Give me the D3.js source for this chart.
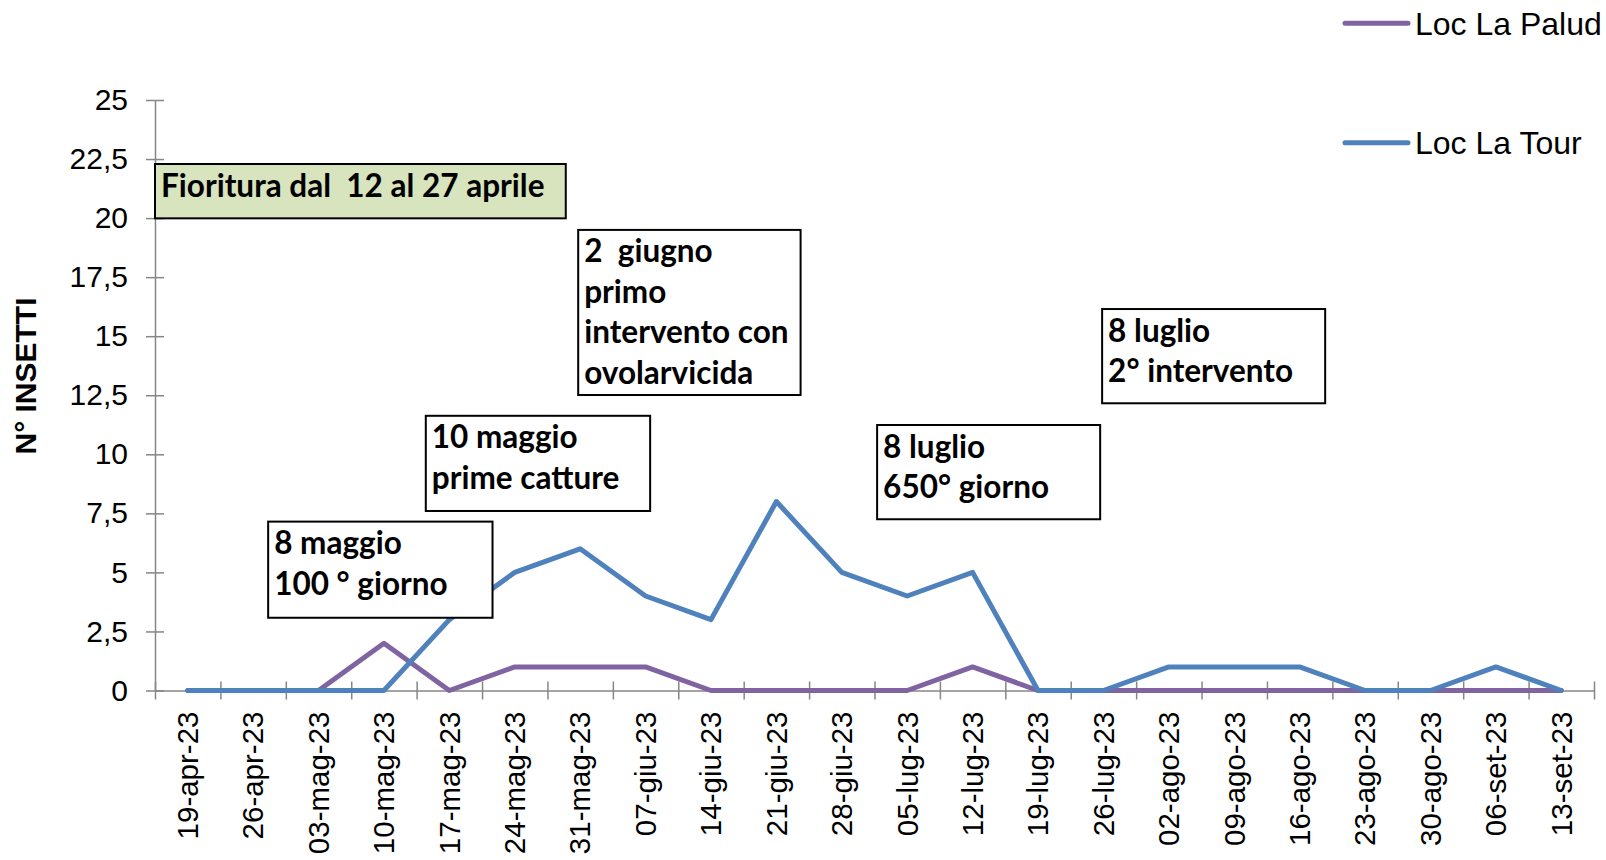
<!DOCTYPE html>
<html>
<head>
<meta charset="utf-8">
<script src="https://cdn.jsdelivr.net/npm/d3@7"></script>
<style>
body { margin: 0; background: #fff; }
</style>
</head>
<body>
<div id="viz"></div>
<script>
const width = 1606;
const height = 860;
const margin = { top: 100, right: 12, bottom: 169.5, left: 155 };
const axisColor = '#868686';
const colors = ['#8064A2', '#4F81BD'];

const categories = [
    "19-apr-23", "26-apr-23", "03-mag-23", "10-mag-23", "17-mag-23", "24-mag-23",
    "31-mag-23", "07-giu-23", "14-giu-23", "21-giu-23", "28-giu-23", "05-lug-23",
    "12-lug-23", "19-lug-23", "26-lug-23", "02-ago-23", "09-ago-23", "16-ago-23",
    "23-ago-23", "30-ago-23", "06-set-23", "13-set-23"
];
const laPalud = [0, 0, 0, 2, 0, 1, 1, 1, 0, 0, 0, 0, 1, 0, 0, 0, 0, 0, 0, 0, 0, 0];
const laTour = [0, 0, 0, 0, 3, 5, 6, 4, 3, 8, 5, 4, 5, 0, 0, 1, 1, 1, 0, 0, 1, 0];
const seriesNames = ["Loc La Palud", "Loc La Tour"];
const yTicks = [0, 2.5, 5, 7.5, 10, 12.5, 15, 17.5, 20, 22.5, 25];
const yTitle = "N° INSETTI";

// text boxes, placed in chart units (category index, value)
const notes = [
    { lines: ["Fioritura dal  12 al 27 aprile"], x0: 0, x1: 6.28, y0: 22.29, y1: 19.99, fill: '#D7E4BD' },
    { lines: ["8 maggio", "100 ° giorno"], x0: 1.73, x1: 5.16, y0: 7.15, y1: 3.08, fill: '#fff' },
    { lines: ["10 maggio", "prime catture"], x0: 4.14, x1: 7.57, y0: 11.63, y1: 7.6, fill: '#fff' },
    { lines: ["2  giugno", "primo", "intervento con", "ovolarvicida"], x0: 6.47, x1: 9.87, y0: 19.5, y1: 12.51, fill: '#fff' },
    { lines: ["8 luglio", "650° giorno"], x0: 11.04, x1: 14.45, y0: 11.24, y1: 7.25, fill: '#fff' },
    { lines: ["8 luglio", "2° intervento"], x0: 14.48, x1: 17.89, y0: 16.15, y1: 12.16, fill: '#fff' }
];

const svg = d3.select('#viz')
    .append('svg')
        .attr('width', width)
        .attr('height', height)
        .style('font-family', '"Liberation Sans", Arial, sans-serif');

const xScale = d3.scaleBand()
    .domain(categories)
    .range([margin.left, width - margin.right]);

const xIdx = d3.scaleLinear()
    .domain([0, categories.length])
    .range([margin.left, width - margin.right]);

const yScale = d3.scaleLinear()
    .domain([0, 25])
    .range([height - margin.bottom, margin.top]);

// y axis
const yAxis = svg.append('g')
    .attr('transform', `translate(${margin.left},0)`)
    .call(d3.axisLeft(yScale)
        .tickValues(yTicks)
        .tickSizeInner(9)
        .tickSizeOuter(0)
        .tickPadding(18)
        .tickFormat(d => String(d).replace('.', ',')));
yAxis.selectAll('line').attr('x1', 9).attr('stroke', axisColor).attr('stroke-width', 1.5);
yAxis.select('.domain').attr('stroke', axisColor).attr('stroke-width', 1.5);
yAxis.selectAll('text').attr('font-size', 30).attr('font-family', '"Liberation Sans", Arial, sans-serif').attr('fill', '#000');

// x axis: ticks at category boundaries
const xAxis = svg.append('g')
    .attr('transform', `translate(0,${yScale(0)})`)
    .call(d3.axisBottom(xIdx)
        .tickValues(d3.range(categories.length + 1))
        .tickSizeInner(9)
        .tickSizeOuter(0)
        .tickFormat(''));
xAxis.selectAll('line').attr('y1', -9).attr('stroke', axisColor).attr('stroke-width', 1.5);
xAxis.select('.domain').attr('stroke', axisColor).attr('stroke-width', 1.5);

// x labels at category centers
const xLabels = svg.append('g')
    .attr('transform', `translate(0,${yScale(0)})`)
    .call(d3.axisBottom(xScale).tickSize(0).tickPadding(0));
xLabels.select('.domain').remove();
xLabels.selectAll('text')
    .attr('font-size', 29.5)
    .attr('font-family', '"Liberation Sans", Arial, sans-serif')
    .attr('fill', '#000')
    .attr('transform', 'rotate(-90)')
    .attr('text-anchor', 'end')
    .attr('x', -21)
    .attr('y', 0)
    .attr('dy', '0.35em');

// y title
svg.append('text')
    .attr('transform', `translate(36,376) rotate(-90)`)
    .attr('text-anchor', 'middle')
    .attr('font-size', 30)
    .attr('font-weight', 'bold')
    .text(yTitle);

// lines
const line = d3.line()
    .x((d, i) => xScale(categories[i]) + xScale.bandwidth() / 2)
    .y(d => yScale(d));

svg.selectAll('.series')
    .data([laPalud, laTour])
    .join('path')
        .attr('class', 'series')
        .attr('d', line)
        .attr('fill', 'none')
        .attr('stroke', (d, i) => colors[i])
        .attr('stroke-width', 5)
        .attr('stroke-linejoin', 'round')
        .attr('stroke-linecap', 'round');

// annotation boxes
const note = svg.selectAll('.note')
    .data(notes)
    .join('g')
        .attr('class', 'note')
        .attr('transform', d => `translate(${xIdx(d.x0)},${yScale(d.y0)})`);

note.append('rect')
    .attr('width', d => xIdx(d.x1) - xIdx(d.x0))
    .attr('height', d => yScale(d.y1) - yScale(d.y0))
    .attr('fill', d => d.fill)
    .attr('stroke', '#000')
    .attr('stroke-width', 2);

note.selectAll('text')
    .data(d => d.lines)
    .join('text')
        .attr('x', 6)
        .attr('y', (d, i) => 32.5 + i * 40.5)
        .attr('font-family', 'Lato, "Open Sans", sans-serif')
        .attr('font-weight', 'bold')
        .attr('font-size', 31.5)
        .style('white-space', 'pre')
        .attr('fill', '#000')
        .text(d => d);

// legend
const legend = svg.selectAll('.legend')
    .data(seriesNames)
    .join('g')
        .attr('class', 'legend')
        .attr('transform', (d, i) => `translate(1345,${23.3 + i * 119.4})`);

legend.append('line')
    .attr('x1', 0)
    .attr('x2', 63)
    .attr('stroke', (d, i) => colors[i])
    .attr('stroke-width', 5)
    .attr('stroke-linecap', 'round');

legend.append('text')
    .attr('x', 70)
    .attr('y', 11.5)
    .attr('font-size', 32)
    .attr('fill', '#000')
    .text(d => d);
</script>
</body>
</html>
